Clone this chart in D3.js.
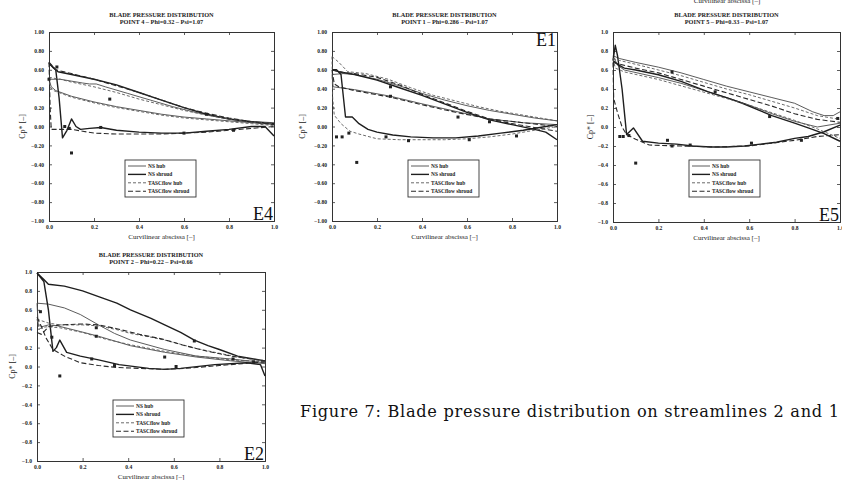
<!DOCTYPE html>
<html><head><meta charset="utf-8">
<script src="https://cdn.jsdelivr.net/npm/d3@7/dist/d3.min.js"></script>
<style>body{margin:0;background:#fff}svg{display:block}</style>
</head><body><svg id="c" width="842" height="480"></svg>
<script>
// ---------- shared ticks / labels ----------
const xTickValues = [0, 0.2, 0.4, 0.6, 0.8, 1.0];
const yTickValues = [-1, -0.8, -0.6, -0.4, -0.2, 0, 0.2, 0.4, 0.6, 0.8, 1.0];
const seriesNames = ["NS hub", "NS shroud", "TASCflow hub", "TASCflow shroud"];
const titleLine1 = "BLADE PRESSURE DISTRIBUTION";
const xTitle = "Curvilinear abscissa [\u2013]";
const yTitle = "Cp* [\u2013]";
const caption = "Figure 7: Blade pressure distribution on streamlines 2 and 1";

// ---------- E4 : POINT 4 ----------
const e4_nsHub_ps = [[0,0.5],[0.05,0.5],[0.1,0.48],[0.15,0.46],[0.18,0.45],[0.21,0.45],[0.25,0.42],[0.35,0.35],[0.45,0.28],[0.55,0.21],[0.65,0.15],[0.75,0.1],[0.85,0.06],[1,0.04]];
const e4_nsHub_ss = [[0,0.5],[0.01,0.42],[0.03,0.38],[0.1,0.32],[0.2,0.26],[0.3,0.21],[0.4,0.17],[0.5,0.13],[0.6,0.1],[0.7,0.08],[0.8,0.06],[0.9,0.04],[1,0.02]];
const e4_nsShr_ps = [[0,0.67],[0.02,0.62],[0.04,0.58],[0.1,0.55],[0.2,0.5],[0.3,0.44],[0.4,0.36],[0.5,0.28],[0.6,0.2],[0.7,0.13],[0.8,0.08],[0.9,0.05],[1,0.03]];
const e4_nsShr_ss = [[0,0.67],[0.03,0.6],[0.045,0.3],[0.06,-0.12],[0.08,-0.04],[0.1,0.08],[0.12,0.0],[0.14,-0.03],[0.18,-0.02],[0.23,-0.01],[0.3,-0.04],[0.4,-0.06],[0.5,-0.07],[0.6,-0.07],[0.7,-0.05],[0.8,-0.03],[0.9,0.0],[0.96,0.0],[1,-0.1]];
const e4_tfHub_ps = [[0,0.52],[0.05,0.5],[0.1,0.47],[0.2,0.42],[0.3,0.36],[0.4,0.29],[0.5,0.23],[0.6,0.17],[0.7,0.12],[0.8,0.08],[0.9,0.05],[1,0.03]];
const e4_tfHub_ss = [[0,0.52],[0.005,0.42],[0.02,0.38],[0.1,0.31],[0.2,0.25],[0.3,0.2],[0.4,0.16],[0.5,0.12],[0.6,0.09],[0.7,0.07],[0.8,0.05],[0.9,0.03],[1,0.01]];
const e4_tfShr_ps = [[0,0.68],[0.03,0.6],[0.1,0.56],[0.2,0.5],[0.3,0.43],[0.4,0.36],[0.5,0.28],[0.6,0.2],[0.7,0.14],[0.8,0.09],[0.9,0.05],[1,0.02]];
const e4_tfShr_ss = [[0,0.68],[0.005,0.2],[0.01,-0.03],[0.1,-0.03],[0.15,-0.05],[0.2,-0.07],[0.3,-0.08],[0.4,-0.08],[0.5,-0.08],[0.6,-0.07],[0.7,-0.06],[0.8,-0.04],[0.9,-0.02],[1,0.0]];
const e4_exp = [[0.0,0.5],[0.035,0.63],[0.07,0.0],[0.09,-0.02],[0.1,-0.28],[0.23,-0.01],[0.27,0.29],[0.6,-0.07],[0.7,0.13],[0.82,-0.04]];

// ---------- E1 : POINT 1 ----------
const e1_nsHub_ps = [[0,0.55],[0.05,0.56],[0.1,0.55],[0.2,0.5],[0.3,0.43],[0.4,0.35],[0.5,0.28],[0.6,0.22],[0.7,0.17],[0.8,0.13],[0.9,0.09],[1,0.06]];
const e1_nsHub_ss = [[0,0.55],[0.005,0.42],[0.1,0.39],[0.26,0.32],[0.4,0.24],[0.55,0.16],[0.7,0.08],[0.85,0.04],[1,0.02]];
const e1_nsShr_ps = [[0,0.6],[0.03,0.58],[0.1,0.55],[0.2,0.49],[0.3,0.41],[0.4,0.33],[0.5,0.24],[0.6,0.15],[0.7,0.07],[0.8,0.02],[0.9,-0.03],[0.95,-0.06],[1,-0.14]];
const e1_nsShr_ss = [[0,0.6],[0.02,0.6],[0.04,0.55],[0.06,0.1],[0.09,0.1],[0.12,0.03],[0.16,-0.03],[0.2,-0.06],[0.27,-0.09],[0.35,-0.11],[0.45,-0.12],[0.55,-0.12],[0.65,-0.1],[0.75,-0.07],[0.85,-0.04],[0.95,0.0],[1,0.02]];
const e1_tfHub_ps = [[0,0.74],[0.03,0.68],[0.07,0.58],[0.15,0.56],[0.25,0.5],[0.35,0.41],[0.45,0.33],[0.55,0.27],[0.65,0.21],[0.75,0.16],[0.85,0.12],[1,0.06]];
const e1_tfHub_ss = [[0,0.74],[0.003,0.3],[0.01,0.12],[0.04,0.03],[0.08,-0.05],[0.12,-0.08],[0.2,-0.13],[0.3,-0.14],[0.4,-0.14],[0.5,-0.14],[0.6,-0.13],[0.7,-0.11],[0.8,-0.08],[0.9,-0.04],[1,0.0]];
const e1_tfShr_ps = [[0,0.6],[0.05,0.57],[0.1,0.56],[0.2,0.52],[0.3,0.44],[0.4,0.34],[0.5,0.25],[0.6,0.16],[0.7,0.08],[0.8,0.03],[0.9,-0.01],[1,-0.05]];
const e1_tfShr_ss = [[0,0.6],[0.01,0.45],[0.03,0.42],[0.1,0.38],[0.26,0.31],[0.4,0.23],[0.55,0.15],[0.7,0.08],[0.85,0.04],[1,0.0]];
const e1_exp = [[0.02,-0.11],[0.045,-0.11],[0.075,-0.07],[0.11,-0.38],[0.24,-0.11],[0.26,0.32],[0.26,0.42],[0.34,-0.15],[0.56,0.1],[0.61,-0.14],[0.7,0.05],[0.82,-0.1]];

// ---------- E5 : POINT 5 ----------
const e5_nsHub_ps = [[0,0.75],[0.03,0.72],[0.1,0.68],[0.2,0.63],[0.3,0.57],[0.4,0.5],[0.5,0.43],[0.6,0.37],[0.7,0.31],[0.8,0.25],[0.88,0.16],[0.93,0.12],[0.97,0.12],[1,0.16]];
const e5_nsHub_ss = [[0,0.75],[0.02,0.65],[0.05,0.6],[0.2,0.52],[0.3,0.46],[0.42,0.37],[0.5,0.31],[0.6,0.23],[0.7,0.14],[0.8,0.06],[0.9,0.0],[1,0.04]];
const e5_nsShr_ps = [[0,0.7],[0.02,0.66],[0.05,0.62],[0.1,0.6],[0.2,0.55],[0.3,0.48],[0.42,0.37],[0.5,0.31],[0.57,0.25],[0.65,0.17],[0.7,0.12],[0.8,0.04],[0.86,-0.01],[0.93,-0.07],[1,-0.15]];
const e5_nsShr_ss = [[0,0.7],[0.01,0.86],[0.02,0.75],[0.04,0.4],[0.06,-0.08],[0.09,-0.01],[0.13,-0.15],[0.2,-0.17],[0.28,-0.18],[0.35,-0.2],[0.43,-0.21],[0.5,-0.21],[0.58,-0.2],[0.65,-0.18],[0.72,-0.16],[0.8,-0.12],[0.86,-0.1],[0.93,-0.05],[1,0.02]];
const e5_tfHub_ps = [[0,0.72],[0.03,0.7],[0.1,0.66],[0.2,0.6],[0.3,0.54],[0.4,0.47],[0.5,0.4],[0.6,0.34],[0.7,0.27],[0.8,0.2],[0.9,0.12],[1,0.08]];
const e5_tfHub_ss = [[0,0.72],[0.01,0.62],[0.05,0.58],[0.2,0.5],[0.35,0.4],[0.5,0.3],[0.6,0.23],[0.7,0.15],[0.8,0.07],[0.9,-0.02],[1,-0.12]];
const e5_tfShr_ps = [[0,0.68],[0.03,0.66],[0.1,0.62],[0.2,0.57],[0.3,0.5],[0.4,0.43],[0.5,0.36],[0.6,0.29],[0.7,0.22],[0.8,0.14],[0.9,0.08],[1,0.05]];
const e5_tfShr_ss = [[0,0.68],[0.003,0.3],[0.02,0.15],[0.04,0.0],[0.06,-0.08],[0.1,-0.13],[0.16,-0.19],[0.3,-0.2],[0.45,-0.21],[0.6,-0.2],[0.7,-0.17],[0.8,-0.14],[0.9,-0.1],[1,-0.08]];
const e5_exp = [[0.03,-0.1],[0.045,-0.1],[0.07,-0.09],[0.1,-0.38],[0.24,-0.14],[0.26,-0.2],[0.26,0.58],[0.34,-0.19],[0.45,0.37],[0.61,-0.17],[0.69,0.11],[0.83,-0.14],[0.99,0.09]];

// ---------- E2 : POINT 2 ----------
const e2_nsHub_ps = [[0,0.67],[0.05,0.66],[0.12,0.62],[0.19,0.55],[0.27,0.44],[0.34,0.35],[0.41,0.28],[0.5,0.22],[0.56,0.18],[0.7,0.11],[0.85,0.08],[1,0.04]];
const e2_nsHub_ss = [[0,0.67],[0.005,0.45],[0.02,0.42],[0.05,0.44],[0.09,0.43],[0.19,0.37],[0.27,0.32],[0.41,0.22],[0.56,0.15],[0.7,0.1],[0.85,0.06],[1,0.03]];
const e2_nsShr_ps = [[0,0.99],[0.03,0.92],[0.05,0.87],[0.12,0.85],[0.2,0.8],[0.27,0.74],[0.35,0.67],[0.41,0.6],[0.5,0.51],[0.56,0.44],[0.63,0.36],[0.69,0.28],[0.75,0.22],[0.8,0.18],[0.88,0.11],[0.95,0.08],[1,0.06]];
const e2_nsShr_ss = [[0,0.99],[0.03,0.9],[0.05,0.6],[0.07,0.16],[0.085,0.2],[0.1,0.28],[0.13,0.15],[0.19,0.11],[0.27,0.07],[0.36,0.02],[0.49,-0.02],[0.56,-0.03],[0.63,-0.02],[0.78,0.02],[0.92,0.04],[0.98,0.02],[1,-0.1]];
const e2_tfHub_ps = [[0,0.5],[0.05,0.46],[0.1,0.44],[0.2,0.44],[0.27,0.43],[0.35,0.39],[0.41,0.35],[0.5,0.31],[0.56,0.28],[0.7,0.19],[0.8,0.14],[0.9,0.09],[1,0.06]];
const e2_tfHub_ss = [[0,0.5],[0.01,0.4],[0.04,0.42],[0.1,0.41],[0.2,0.36],[0.3,0.29],[0.41,0.23],[0.56,0.16],[0.7,0.11],[0.85,0.07],[1,0.05]];
const e2_tfShr_ps = [[0,0.36],[0.02,0.34],[0.05,0.42],[0.1,0.44],[0.2,0.45],[0.27,0.44],[0.35,0.4],[0.45,0.34],[0.55,0.29],[0.65,0.22],[0.75,0.16],[0.85,0.11],[1,0.06]];
const e2_tfShr_ss = [[0,0.52],[0.02,0.42],[0.04,0.3],[0.07,0.18],[0.12,0.11],[0.19,0.04],[0.27,0.01],[0.35,-0.01],[0.45,-0.02],[0.56,-0.03],[0.65,-0.02],[0.8,0.01],[0.9,0.03],[1,0.05]];
const e2_exp = [[0.015,0.58],[0.065,0.31],[0.1,-0.1],[0.24,0.08],[0.26,0.41],[0.26,0.32],[0.34,0.01],[0.56,0.1],[0.61,0.0],[0.69,0.27],[0.86,0.08],[0.95,0.05]];

// ---------- layout (not data) ----------
const panels = [
  {tag:"E4", sub:"POINT 4 \u2013 Phi=0.32 \u2013 Psi=1.07", x0:49, x1:274, y0:32, y1:221, fmt:".2f", tagPos:"br", ylx:22,
   s:[[e4_nsHub_ps,e4_nsHub_ss],[e4_nsShr_ps,e4_nsShr_ss],[e4_tfHub_ps,e4_tfHub_ss],[e4_tfShr_ps,e4_tfShr_ss]], exp:e4_exp},
  {tag:"E1", sub:"POINT 1 \u2013 Phi=0.286 \u2013 Psi=1.07", x0:332, x1:557, y0:32, y1:221, fmt:".2f", tagPos:"tr", ylx:302,
   s:[[e1_nsHub_ps,e1_nsHub_ss],[e1_nsShr_ps,e1_nsShr_ss],[e1_tfHub_ps,e1_tfHub_ss],[e1_tfShr_ps,e1_tfShr_ss]], exp:e1_exp},
  {tag:"E5", sub:"POINT 5 \u2013 Phi=0.33 \u2013 Psi=1.07", x0:613, x1:840, y0:32, y1:222, fmt:".1f", tagPos:"br", ylx:590,
   s:[[e5_nsHub_ps,e5_nsHub_ss],[e5_nsShr_ps,e5_nsShr_ss],[e5_tfHub_ps,e5_tfHub_ss],[e5_tfShr_ps,e5_tfShr_ss]], exp:e5_exp},
  {tag:"E2", sub:"POINT 2 \u2013 Phi=0.22 \u2013 Psi=0.66", x0:37, x1:265, y0:272, y1:461, fmt:".1f", tagPos:"br", ylx:12,
   s:[[e2_nsHub_ps,e2_nsHub_ss],[e2_nsShr_ps,e2_nsShr_ss],[e2_tfHub_ps,e2_tfHub_ss],[e2_tfShr_ps,e2_tfShr_ss]], exp:e2_exp}
];
const styles = [
  {stroke:"#4a4a4a", w:0.9, dash:null},
  {stroke:"#1e1e1e", w:1.4, dash:null},
  {stroke:"#5a5a5a", w:0.9, dash:"3,2"},
  {stroke:"#2a2a2a", w:1.1, dash:"5,2.5"}
];
const serif = "'Liberation Serif','DejaVu Serif',serif";
const svg = d3.select("#c");
svg.append("rect").attr("width",842).attr("height",480).attr("fill","#fff");
const root = svg.append("g");

panels.forEach(p => {
  const x = d3.scaleLinear().domain([0,1]).range([p.x0,p.x1]);
  const y = d3.scaleLinear().domain([-1,1]).range([p.y1,p.y0]);
  const g = root.append("g");
  const fmt = d3.format(p.fmt);
  const ax = (gen, tr) => g.append("g").attr("transform",tr).call(gen);
  const bottom = ax(d3.axisBottom(x).tickValues(xTickValues).tickSize(-3).tickPadding(4).tickFormat(d3.format(".1f")), `translate(0,${p.y1})`);
  const top = ax(d3.axisTop(x).tickValues(xTickValues).tickSize(-3).tickFormat(""), `translate(0,${p.y0})`);
  const left = ax(d3.axisLeft(y).tickValues(yTickValues).tickSize(-3).tickPadding(5).tickFormat(fmt), `translate(${p.x0},0)`);
  const right = ax(d3.axisRight(y).tickValues(yTickValues).tickSize(-3).tickFormat(""), `translate(${p.x1},0)`);
  [bottom,top,left,right].forEach(a => {
    a.selectAll("path").attr("stroke","#333").attr("stroke-width",1);
    a.selectAll("line").attr("stroke","#333").attr("stroke-width",0.8);
    a.selectAll("text").attr("font-family",serif).attr("font-size",5.6).attr("font-weight","bold").attr("fill","#222");
  });
  const cx = (p.x0+p.x1)/2;
  g.append("text").attr("x",cx).attr("y",p.y0-15).attr("text-anchor","middle").attr("font-family",serif)
    .attr("font-size",6.3).attr("font-weight","bold").attr("fill","#222").text(titleLine1);
  g.append("text").attr("x",cx).attr("y",p.y0-8).attr("text-anchor","middle").attr("font-family",serif)
    .attr("font-size",6.3).attr("font-weight","bold").attr("fill","#222").text(p.sub);
  g.append("text").attr("x",cx).attr("y",p.y1+18).attr("text-anchor","middle").attr("font-family",serif)
    .attr("font-size",7).attr("fill","#222").text(xTitle);
  g.append("text").attr("transform",`translate(${p.ylx},${(p.y0+p.y1)/2}) rotate(-90)`).attr("text-anchor","middle")
    .attr("dy","0.35em").attr("font-family",serif).attr("font-size",8).attr("fill","#222").text(yTitle);
  const line = d3.line().x(d=>x(d[0])).y(d=>y(d[1]));
  p.s.forEach((pair,i) => {
    const st = styles[i];
    pair.forEach(arr => {
      g.append("path").attr("d",line(arr)).attr("fill","none").attr("stroke",st.stroke)
        .attr("stroke-width",st.w).attr("stroke-dasharray",st.dash).attr("stroke-linejoin","round");
    });
  });
  g.selectAll("rect.pt").data(p.exp).join("rect").attr("class","pt")
    .attr("x",d=>x(d[0])-1.5).attr("y",d=>y(d[1])-1.5).attr("width",3).attr("height",3).attr("fill","#222");
  const lx = p.x0+76, ly = p.y0+128;
  const lg = g.append("g").attr("transform",`translate(${lx},${ly})`);
  lg.append("rect").attr("width",71).attr("height",37).attr("fill","#fff").attr("stroke","#333").attr("stroke-width",0.9);
  seriesNames.forEach((n,i) => {
    const yy = 6 + i*8.4;
    const st = styles[i];
    lg.append("line").attr("x1",3).attr("x2",21).attr("y1",yy).attr("y2",yy).attr("stroke",st.stroke)
      .attr("stroke-width",st.w).attr("stroke-dasharray",st.dash);
    lg.append("text").attr("x",23).attr("y",yy).attr("dy","0.35em").attr("font-family",serif).attr("font-size",5.4)
      .attr("font-weight","bold").attr("fill","#222").text(n);
  });
  const t = g.append("text").attr("font-family",serif).attr("font-size",18).attr("fill","#111").attr("text-anchor","end").text(p.tag);
  if (p.tagPos === "br") t.attr("x",p.x1-1).attr("y",p.y1-1.5);
  else t.attr("x",p.x1-1).attr("y",p.y0+14);
});

// cut-off axis title above E5 panel (belongs to the figure above on the page)
root.append("text").attr("x",727).attr("y",3).attr("text-anchor","middle").attr("font-family",serif)
  .attr("font-size",7).attr("fill","#222").text(xTitle);
// caption
root.append("text").attr("x",300).attr("y",417).attr("font-family","'DejaVu Serif',serif")
  .attr("font-size",16.2).attr("textLength",539).attr("lengthAdjust","spacing").attr("fill","#111").text(caption);
</script></body></html>
